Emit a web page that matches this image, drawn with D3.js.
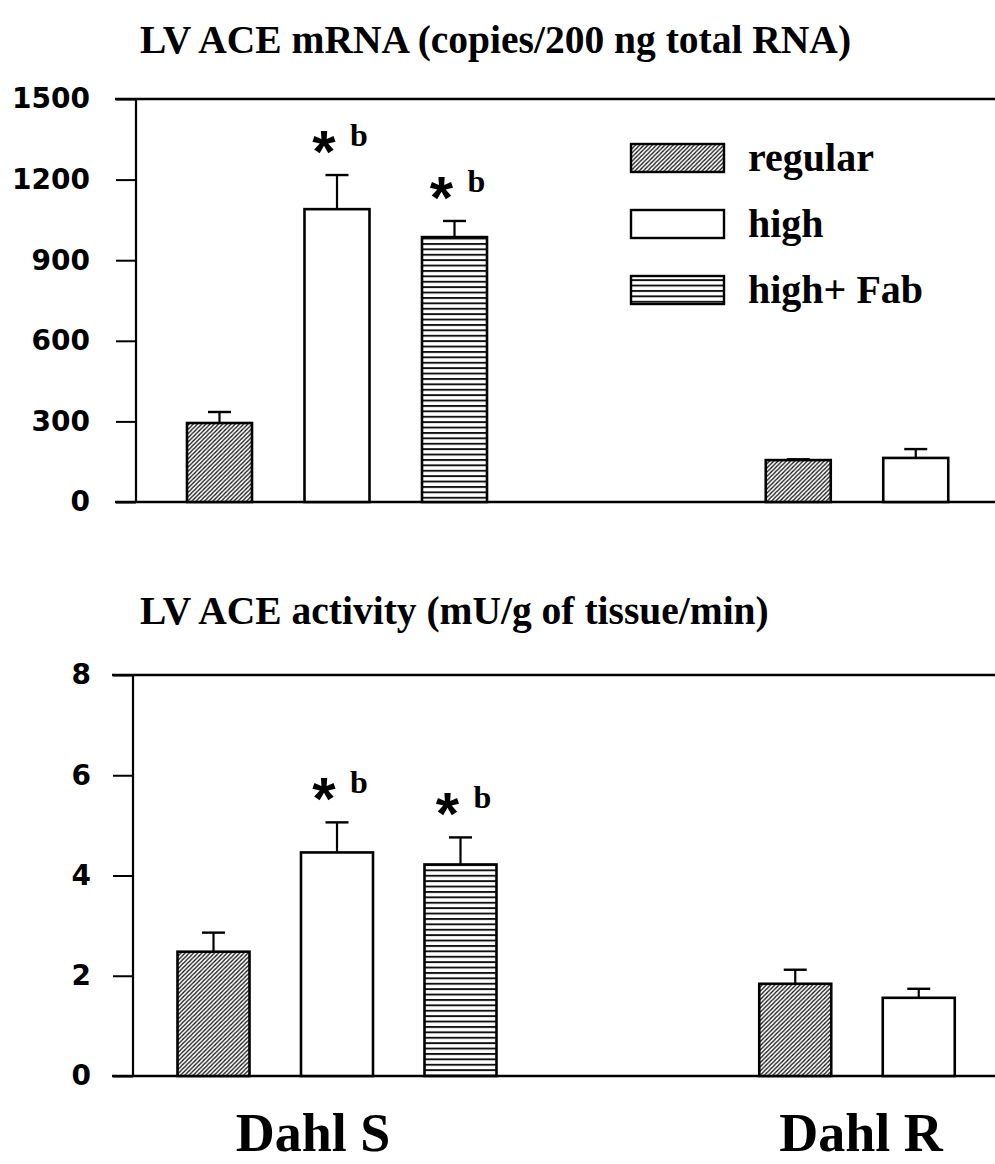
<!DOCTYPE html>
<html>
<head>
<meta charset="utf-8">
<script src="https://cdn.jsdelivr.net/npm/d3@7"></script>
<style>
  body { margin: 0; background: #fff; }
  .tick text { font-family: "DejaVu Sans", sans-serif; font-weight: bold; font-size: 28px; fill: #000; }
  .tick line { stroke: #000; stroke-width: 2; }
  .title, .legend text, .xlab, .sig-b { font-family: "Liberation Serif", "Times New Roman", serif; font-weight: bold; fill: #000; }
</style>
</head>
<body>
<svg width="995" height="1164"></svg>
<script>
// groups and treatments
var groups = ["Dahl S", "Dahl R"];
var treatments = ["regular", "high", "high+ Fab"];
var treatmentsR = ["regular", "high"];

// LV ACE mRNA (copies/200 ng total RNA)
var mrnaS = [294, 1090, 986];
var mrnaSErr = [41, 127, 60];
var mrnaR = [156, 164];
var mrnaRErr = [3, 33];
var mrnaTicks = [0, 300, 600, 900, 1200, 1500];

// LV ACE activity (mU/g of tissue/min)
var actS = [2.48, 4.46, 4.22];
var actSErr = [0.38, 0.60, 0.54];
var actR = [1.84, 1.56];
var actRErr = [0.28, 0.18];
var actTicks = [0, 2, 4, 6, 8];

// significance marks (Dahl S only)
var sigS = ["", "* b", "* b"];

var svg = d3.select("svg");
var W = 995;

var defs = svg.append("defs");
var diag = defs.append("pattern")
    .attr("id", "diag")
    .attr("patternUnits", "userSpaceOnUse")
    .attr("width", 4.2).attr("height", 4.2);
diag.append("rect").attr("width", 4.2).attr("height", 4.2).attr("fill", "#fff");
diag.append("path")
    .attr("d", "M-1,1 l2,-2 M0,4.2 l4.2,-4.2 M3.2,5.2 l2,-2")
    .attr("stroke", "#111").attr("stroke-width", 1.3);

var horiz = defs.append("pattern")
    .attr("id", "horiz")
    .attr("patternUnits", "userSpaceOnUse")
    .attr("width", 10).attr("height", 5.4);
horiz.append("rect").attr("width", 10).attr("height", 5.4).attr("fill", "#fff");
horiz.append("rect").attr("y", 0).attr("width", 10).attr("height", 1.9).attr("fill", "#111");

var fills = {"regular": "url(#diag)", "high": "#fff", "high+ Fab": "url(#horiz)"};

// group centres shared by both panels
var x0 = d3.scalePoint().domain(groups).range([337, 857]);
var xLab = d3.scalePoint().domain(groups).range([313, 861]);

function drawPanel(cfg) {
  var g = svg.append("g");
  var y = d3.scaleLinear().domain([0, d3.max(cfg.ticks)]).range([cfg.bottom, cfg.top]);

  g.append("text").attr("class", "title")
      .attr("x", 140).attr("y", cfg.titleY)
      .style("font-size", "39.5px")
      .text(cfg.title);

  // frame lines at top and bottom value
  cfg.ticks.filter(function(d, i) { return i === 0 || i === cfg.ticks.length - 1; })
    .forEach(function(v) {
      g.append("line")
        .attr("x1", cfg.axisX - 21).attr("x2", W)
        .attr("y1", y(v)).attr("y2", y(v))
        .attr("stroke", "#000").attr("stroke-width", 2.4);
    });

  var ax = g.append("g")
      .attr("transform", "translate(" + cfg.axisX + ",0)")
      .call(d3.axisLeft(y).tickValues(cfg.ticks).tickFormat(d3.format("d"))
        .tickSize(20).tickPadding(cfg.pad));
  ax.select(".domain").remove();
  g.append("line")
      .attr("x1", cfg.axisX).attr("x2", cfg.axisX)
      .attr("y1", y(d3.max(cfg.ticks))).attr("y2", y(0))
      .attr("stroke", "#000").attr("stroke-width", 2.2);

  var sets = [
    {group: "Dahl S", names: treatments, vals: cfg.s, errs: cfg.sErr, sig: sigS},
    {group: "Dahl R", names: treatmentsR, vals: cfg.r, errs: cfg.rErr, sig: []}
  ];

  sets.forEach(function(set) {
    var n = set.names.length;
    var c = x0(set.group);
    var p = 1 - cfg.barW / cfg.step;
    var xb = d3.scaleBand().domain(set.names)
        .range([c - n * cfg.step / 2, c + n * cfg.step / 2])
        .paddingInner(p).paddingOuter(p / 2);

    var rows = set.names.map(function(name, i) {
      return {name: name, v: set.vals[i], e: set.errs[i], sig: set.sig[i] || ""};
    });

    var bar = g.selectAll(null).data(rows).enter().append("g");

    bar.append("line")
        .attr("x1", function(d) { return xb(d.name) + xb.bandwidth() / 2; })
        .attr("x2", function(d) { return xb(d.name) + xb.bandwidth() / 2; })
        .attr("y1", function(d) { return y(d.v); })
        .attr("y2", function(d) { return y(d.v + d.e); })
        .attr("stroke", "#000").attr("stroke-width", 2.2);
    bar.append("line")
        .attr("x1", function(d) { return xb(d.name) + xb.bandwidth() / 2 - 11.5; })
        .attr("x2", function(d) { return xb(d.name) + xb.bandwidth() / 2 + 11.5; })
        .attr("y1", function(d) { return y(d.v + d.e); })
        .attr("y2", function(d) { return y(d.v + d.e); })
        .attr("stroke", "#000").attr("stroke-width", 2.4);

    bar.append("rect")
        .attr("x", function(d) { return xb(d.name); })
        .attr("width", xb.bandwidth())
        .attr("y", function(d) { return y(d.v); })
        .attr("height", function(d) { return y(0) - y(d.v); })
        .attr("fill", function(d) { return fills[d.name]; })
        .attr("stroke", "#000").attr("stroke-width", 2.6);

    var sig = bar.filter(function(d) { return d.sig; });
    sig.append("text")
        .attr("x", function(d) { return xb(d.name) + xb.bandwidth() / 2 - 13; })
        .attr("y", function(d) { return y(d.v + d.e) - 29 + 26; })
        .attr("text-anchor", "middle")
        .style("font-family", "'Liberation Sans', Arial, sans-serif")
        .style("font-weight", "bold")
        .style("font-size", "60px")
        .text(function(d) { return d.sig.split(" ")[0]; });
    sig.append("text").attr("class", "sig-b")
        .attr("x", function(d) { return xb(d.name) + xb.bandwidth() / 2 + 13; })
        .attr("y", function(d) { return y(d.v + d.e) - 29; })
        .style("font-size", "32px")
        .text(function(d) { return d.sig.split(" ")[1]; });
  });
  return g;
}

drawPanel({
  title: "LV ACE mRNA (copies/200 ng total RNA)", titleY: 53,
  top: 99, bottom: 502, axisX: 136, pad: 26,
  ticks: mrnaTicks, barW: 65, step: 117.5,
  s: mrnaS, sErr: mrnaSErr, r: mrnaR, rErr: mrnaRErr
});

drawPanel({
  title: "LV ACE activity (mU/g of tissue/min)", titleY: 624,
  top: 675, bottom: 1076, axisX: 133, pad: 22,
  ticks: actTicks, barW: 72, step: 123.5,
  s: actS, sErr: actSErr, r: actR, rErr: actRErr
});

// legend
var legend = svg.append("g").attr("class", "legend");
var li = legend.selectAll(null).data(treatments).enter().append("g")
    .attr("transform", function(d, i) { return "translate(631," + (158 + i * 66) + ")"; });
li.append("rect")
    .attr("x", 0).attr("y", -14).attr("width", 93).attr("height", 28)
    .attr("fill", function(d) { return fills[d]; })
    .attr("stroke", "#000").attr("stroke-width", 2.4);
li.append("text")
    .attr("x", 117).attr("y", 13)
    .style("font-size", "40px")
    .text(function(d) { return d; });

// group labels
svg.selectAll(".xlab").data(groups).enter().append("text")
    .attr("class", "xlab")
    .attr("x", function(d) { return xLab(d); })
    .attr("y", 1151)
    .attr("text-anchor", "middle")
    .style("font-size", "54px")
    .text(function(d) { return d; });
</script>
</body>
</html>
